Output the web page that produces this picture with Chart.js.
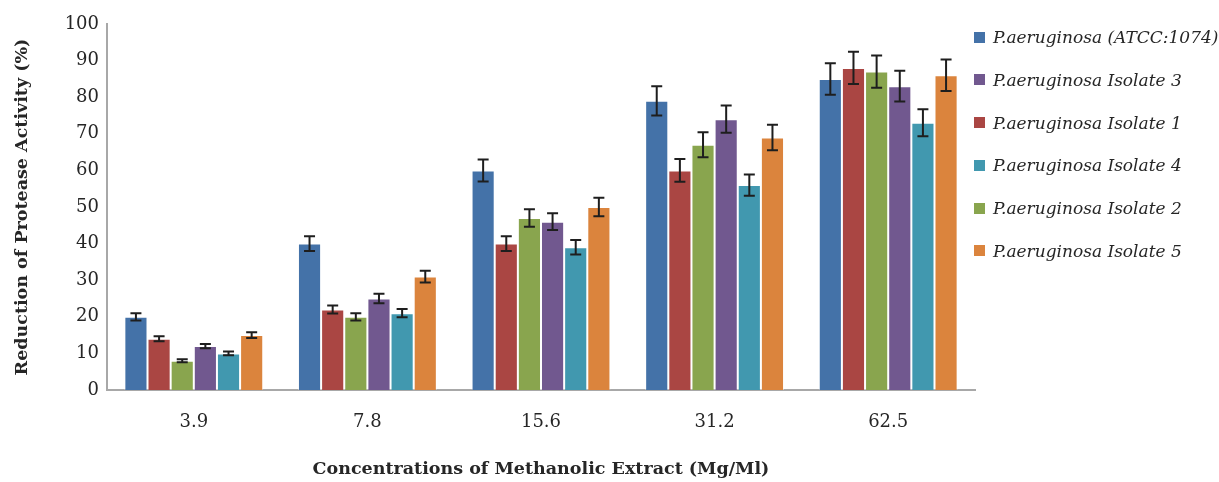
<!DOCTYPE html>
<html>
<head>
<meta charset="utf-8">
<title>Reduction of Protease Activity</title>
<script src="https://cdn.jsdelivr.net/npm/chart.js@4.4.1/dist/chart.umd.min.js"></script>
<style>
  html, body { margin: 0; padding: 0; background: #fff; }
  #wrap { position: relative; width: 1219px; height: 482px; }
  #legend {
    position: absolute; left: 974px; top: 27px; margin: 0; padding: 0; list-style: none;
    font-family: 'DejaVu Serif'; font-style: italic; font-size: 17px; color: #262626;
  }
  #legend li { display: flex; align-items: center; height: 20px; margin-bottom: 22.8px; white-space: nowrap; }
  #legend .sw { display: inline-block; width: 11px; height: 11px; margin-right: 8px; }
</style>
</head>
<body>
<div id="wrap">
  <canvas id="proteaseChart" width="1219" height="482"></canvas>
  <ul id="legend"></ul>
</div>
<script>
// concentrations (Mg/Ml) on the x axis
const categories = ['3.9', '7.8', '15.6', '31.2', '62.5'];

// % reduction of protease activity, one array per strain
const atcc = [20, 40, 60, 79, 85];
const iso1 = [14, 22, 40, 60, 88];
const iso2 = [8, 20, 47, 67, 87];
const iso3 = [12, 25, 46, 74, 83];
const iso4 = [10, 21, 39, 56, 73];
const iso5 = [15, 31, 50, 69, 86];

// error bar half-heights
const atccErr = [1.0, 2.0, 3.0, 4.0, 4.3];
const iso1Err = [0.7, 1.1, 2.0, 3.1, 4.4];
const iso2Err = [0.4, 1.0, 2.4, 3.4, 4.4];
const iso3Err = [0.6, 1.3, 2.3, 3.7, 4.2];
const iso4Err = [0.5, 1.1, 2.0, 2.9, 3.7];
const iso5Err = [0.8, 1.6, 2.5, 3.5, 4.3];

const yTicks = [0, 10, 20, 30, 40, 50, 60, 70, 80, 90, 100];

const BLUE = '#4472A8';
const RED = '#AA4643';
const GREEN = '#89A54E';
const PURPLE = '#71588F';
const TEAL = '#4198AF';
const ORANGE = '#DB843D';
const AXIS = '#a8a8a8';
const TEXT = '#262626';
const SERIF = "'DejaVu Serif', serif";

// legend is listed in the same odd order as the original figure
const legendOrder = [0, 3, 1, 4, 2, 5];

// ── draws the I-shaped error bars on top of every bar ──
const errorBars = {
  id: 'errorBars',
  afterDatasetsDraw(chart) {
    const ctx = chart.ctx;
    const y = chart.scales.y;
    ctx.save();
    ctx.strokeStyle = '#1e1e1e';
    ctx.lineWidth = 2;
    chart.data.datasets.forEach((ds, i) => {
      const meta = chart.getDatasetMeta(i);
      if (meta.hidden) return;
      meta.data.forEach((bar, j) => {
        const v = ds.data[j];
        const e = ds.errors[j];
        const top = y.getPixelForValue(v + e);
        const bot = y.getPixelForValue(v - e);
        const cap = 5.5;
        ctx.beginPath();
        ctx.moveTo(bar.x, top); ctx.lineTo(bar.x, bot);
        ctx.moveTo(bar.x - cap, top); ctx.lineTo(bar.x + cap, top);
        ctx.moveTo(bar.x - cap, bot); ctx.lineTo(bar.x + cap, bot);
        ctx.stroke();
      });
    });
    ctx.restore();
  }
};

function series(label, data, errors, color) {
  return {
    label: label,
    data: data,
    errors: errors,
    backgroundColor: color,
    borderColor: 'rgba(255,255,255,0.45)',
    borderWidth: 1,
    categoryPercentage: 0.8,
    barPercentage: 1.0,
  };
}

const datasets = [
  series('P.aeruginosa (ATCC:1074)', atcc, atccErr, BLUE),
  series('P.aeruginosa Isolate 1', iso1, iso1Err, RED),
  series('P.aeruginosa Isolate 2', iso2, iso2Err, GREEN),
  series('P.aeruginosa Isolate 3', iso3, iso3Err, PURPLE),
  series('P.aeruginosa Isolate 4', iso4, iso4Err, TEAL),
  series('P.aeruginosa Isolate 5', iso5, iso5Err, ORANGE),
];

const chart = new Chart(document.getElementById('proteaseChart'), {
  type: 'bar',
  data: { labels: categories, datasets: datasets },
  plugins: [errorBars],
  options: {
    responsive: false,
    animation: false,
    layout: { padding: { top: 24, right: 244, bottom: 0, left: 12 } },
    plugins: {
      legend: { display: false },
      tooltip: { enabled: false },
    },
    scales: {
      x: {
        afterFit: (scale) => { scale.height = 92; },
        grid: { display: false, drawTicks: false },
        border: { display: true, color: AXIS, width: 2 },
        ticks: { color: TEXT, padding: 22, font: { family: SERIF, size: 18 } },
        title: {
          display: true,
          text: 'Concentrations of Methanolic Extract (Mg/Ml)',
          color: TEXT,
          padding: { top: 0, bottom: 2 },
          font: { family: SERIF, size: 17.5, weight: 'bold' },
        },
      },
      y: {
        min: 0,
        max: 100,
        afterFit: (scale) => { scale.width = 95; },
        afterBuildTicks: (scale) => { scale.ticks = yTicks.map(v => ({ value: v })); },
        grid: { display: false, drawTicks: false },
        border: { display: true, color: AXIS, width: 2 },
        ticks: { color: TEXT, padding: 8, font: { family: SERIF, size: 18 } },
        title: {
          display: true,
          text: 'Reduction of Protease Activity (%)',
          color: TEXT,
          padding: { top: 0, bottom: 10 },
          font: { family: SERIF, size: 17.5, weight: 'bold' },
        },
      },
    },
  },
});

// ── HTML legend, same colours as the datasets ──
const legendEl = document.getElementById('legend');
legendOrder.forEach(i => {
  const ds = chart.data.datasets[i];
  const li = document.createElement('li');
  const sw = document.createElement('span');
  sw.className = 'sw';
  sw.style.background = ds.backgroundColor;
  li.appendChild(sw);
  li.appendChild(document.createTextNode(ds.label));
  legendEl.appendChild(li);
});
</script>
</body>
</html>
